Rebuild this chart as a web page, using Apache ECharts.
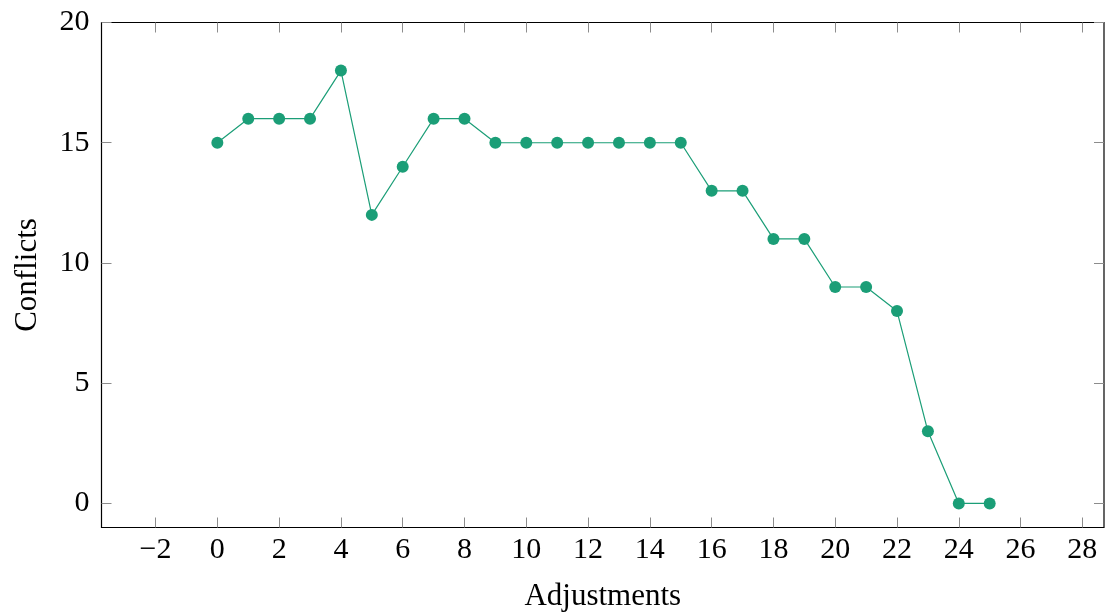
<!DOCTYPE html>
<html><head><meta charset="utf-8">
<script src="https://cdn.jsdelivr.net/npm/echarts@6/dist/echarts.min.js"></script>
<style>html,body{margin:0;padding:0;background:#fff}#c{width:1112px;height:615px}</style>
</head><body><div id="c"></div>
<script>
const adjustments = [0,1,2,3,4,5,6,7,8,9,10,11,12,13,14,15,16,17,18,19,20,21,22,23,24,25];
const conflicts = [15,16,16,16,18,12,14,16,16,15,15,15,15,15,15,15,13,13,11,11,9,9,8,3,0,0];
const xTicks = [-2,0,2,4,6,8,10,12,14,16,18,20,22,24,26,28];
const yTicks = [0,5,10,15,20];

const FONT = '"Liberation Serif", "DejaVu Serif", serif';
const tickStyle = {color:'#8c8c8c', width:1};
const xMin = -3.75, xMax = 28.7, yMin = -1, yMax = 20;
const fmt = v => String(v).replace('-', '\u2212');

const chart = echarts.init(document.getElementById('c'), null, {renderer:'canvas'});
chart.setOption({
  animation:false,
  grid:{left:101.5, right:8, top:22.5, bottom:87.5, show:true, borderColor:'#000', borderWidth:1.2, backgroundColor:'transparent', outerBoundsMode:'none', containLabel:false},
  xAxis:[{
    type:'value', min:xMin, max:xMax, position:'bottom',
    axisLine:{show:false, onZero:false},
    axisTick:{show:true, inside:true, length:10, lineStyle:tickStyle, customValues:xTicks},
    axisLabel:{show:true, customValues:xTicks, formatter:fmt, fontFamily:FONT, fontSize:30, color:'#000', margin:8},
    splitLine:{show:false},
    name:'Adjustments', nameLocation:'middle', nameGap:54,
    nameTextStyle:{fontFamily:FONT, fontSize:31, color:'#000'}
  },{
    type:'value', min:xMin, max:xMax, position:'top',
    axisLine:{show:false, onZero:false},
    axisTick:{show:true, inside:true, length:10, lineStyle:tickStyle, customValues:xTicks},
    axisLabel:{show:false}, splitLine:{show:false}
  }],
  yAxis:[{
    type:'value', min:yMin, max:yMax, position:'left',
    axisLine:{show:false, onZero:false},
    axisTick:{show:true, inside:true, length:10, lineStyle:tickStyle, customValues:yTicks},
    axisLabel:{show:true, customValues:yTicks, formatter:fmt, fontFamily:FONT, fontSize:30, color:'#000', margin:12},
    splitLine:{show:false},
    name:'Conflicts', nameLocation:'middle', nameGap:58, nameRotate:90,
    nameTextStyle:{fontFamily:FONT, fontSize:31, color:'#000'}
  },{
    type:'value', min:yMin, max:yMax, position:'right',
    axisLine:{show:false, onZero:false},
    axisTick:{show:true, inside:true, length:10, lineStyle:tickStyle, customValues:yTicks},
    axisLabel:{show:false}, splitLine:{show:false}
  }],
  series:[{
    type:'line',
    data: adjustments.map((x,i)=>[x, conflicts[i]]),
    symbol:'circle', symbolSize:12,
    lineStyle:{color:'#1b9e77', width:1.2},
    itemStyle:{color:'#1b9e77'},
    z:5
  }]
});
</script></body></html>
